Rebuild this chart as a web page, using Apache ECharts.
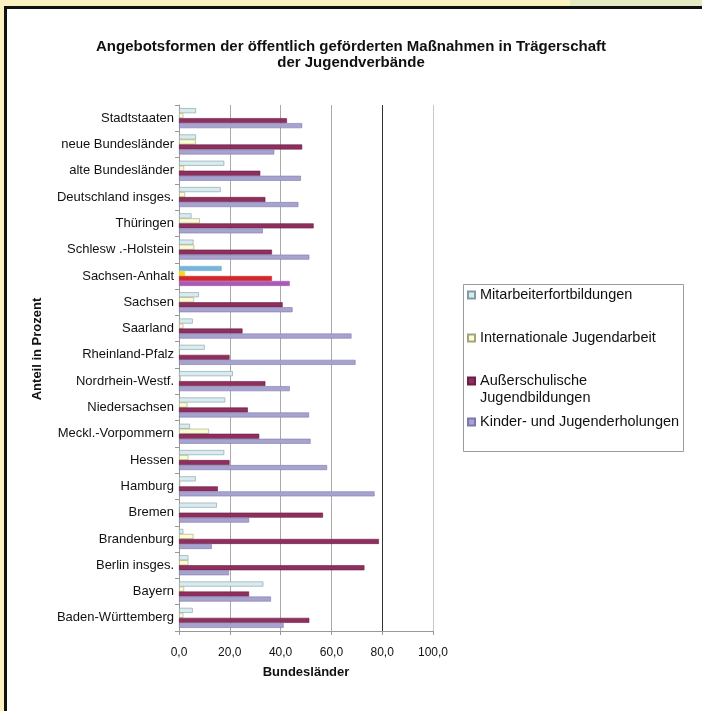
<!DOCTYPE html>
<html>
<head>
<meta charset="utf-8">
<script src="https://cdn.jsdelivr.net/npm/echarts@6/dist/echarts.min.js"></script>
<style>
html,body{margin:0;padding:0;background:#fff;}
#yt{position:absolute;left:0;top:0;width:570px;height:6px;background:#fbf1c1;}
#gt{position:absolute;left:570px;top:0;width:132px;height:6px;background:#e2ebc4;}
#yl{position:absolute;left:0;top:0;width:4px;height:711px;background:#fbf1c1;}
#bd{position:absolute;left:4px;top:6px;width:698px;height:705px;border-left:3px solid #111;border-top:3px solid #111;box-sizing:border-box;}
#chart{position:absolute;left:0;top:0;width:702px;height:711px;}
</style>
</head>
<body>
<div id="yt"></div><div id="gt"></div><div id="yl"></div><div id="bd"></div>
<div id="chart"></div>
<script>
const categories = ['Baden-Württemberg','Bayern','Berlin insges.','Brandenburg','Bremen','Hamburg','Hessen','Meckl.-Vorpommern','Niedersachsen','Nordrhein-Westf.','Rheinland-Pfalz','Saarland','Sachsen','Sachsen-Anhalt','Schlesw .-Holstein','Thüringen','Deutschland insges.','alte Bundesländer','neue Bundesländer','Stadtstaaten'];
const seriesNames = ['Mitarbeiterfortbildungen','Internationale Jugendarbeit','Außerschulische Jugendbildungen','Kinder- und Jugenderholungen'];
const mitarbeiter = [5.4,33.2,3.7,1.7,14.9,6.6,17.8,4.3,18.2,21.2,10.1,5.4,7.8,16.8,5.7,4.9,16.4,17.8,6.7,6.7];
const international = [1.7,2.0,3.7,5.7,0.3,0.5,3.7,11.8,3.3,0.7,0.3,1.7,5.9,2.4,6.0,8.2,2.4,2.0,6.6,1.7];
const ausserschulisch = [51.3,27.6,73.0,78.7,56.7,15.3,19.9,31.6,27.1,34.0,19.9,25.0,40.8,36.6,36.6,53.0,34.0,32.0,48.5,42.5];
const kinder = [41.2,36.2,19.7,12.9,27.6,77.0,58.3,51.8,51.2,43.6,69.5,67.9,44.7,43.6,51.3,33.0,47.0,48.0,37.5,48.5];
const xTicks = [0,20,40,60,80,100];
const highlighted = 'Sachsen-Anhalt';

const font = 'Liberation Sans, Arial, sans-serif';
const styles = [
  {fill:'#d9ebef', border:'#7e9da5', hl:'#78b4d8'},
  {fill:'#fcfcd2', border:'#a3a37e', hl:'#f0dc1e'},
  {fill:'#8e2f5e', border:'#6a1f44', hl:'#d2282a'},
  {fill:'#a7a3cf', border:'#7d79ad', hl:'#a85ab8'}
];
const values = [mitarbeiter, international, ausserschulisch, kinder];

const series = values.map((arr, s) => ({
  name: seriesNames[s],
  type: 'bar',
  barWidth: 5,
  barGap: '0%',
  itemStyle: {color: styles[s].fill, borderColor: styles[s].border, borderWidth: 0.6},
  data: arr.map((v, i) => categories[i] === highlighted
    ? {value: v, itemStyle: {color: styles[s].hl, borderColor: styles[s].hl}}
    : v)
}));

const legendTops = [287.5, 330.5, 373.5, 414.5];
const legends = seriesNames.map((n, s) => ({
  data: [n],
  left: 467,
  top: legendTops[s],
  padding: 0,
  icon: 'rect',
  itemWidth: 7,
  itemHeight: 7,
  selectedMode: false,
  formatter: nm => s === 2 ? nm.split(' ')[0] : nm,
  textStyle: {fontFamily: font, fontSize: 14.5, color: '#111'}
}));

const chart = echarts.init(document.getElementById('chart'));
chart.setOption({
  animation: false,
  backgroundColor: 'transparent',
  title: {
    text: 'Angebotsformen der öffentlich geförderten Maßnahmen in Trägerschaft\nder Jugendverbände',
    left: 'center',
    top: 34,
    textStyle: {fontFamily: font, fontSize: 15, fontWeight: 'bold', color: '#111', lineHeight: 16}
  },
  graphic: [
    {type: 'rect', shape: {x: 463.5, y: 284.5, width: 220, height: 167}, style: {fill: '#fff', stroke: '#9a9a9a', lineWidth: 1}, z: -1},
    {type: 'text', x: 480, y: 398, style: {text: seriesNames[2].split(' ')[1], font: '14.5px Liberation Sans, Arial, sans-serif', fill: '#111', textVerticalAlign: 'middle'}}
  ],
  legend: legends,
  grid: {left: 179, top: 105, width: 254, height: 526, containLabel: false},
  xAxis: {
    type: 'value', min: xTicks[0], max: xTicks[xTicks.length - 1], interval: 20,
    name: 'Bundesländer', nameLocation: 'middle', nameGap: 35,
    nameTextStyle: {fontFamily: font, fontSize: 13, fontWeight: 'bold', color: '#111'},
    axisLine: {show: true, lineStyle: {color: '#999'}},
    axisTick: {show: true, length: 4, lineStyle: {color: '#999'}},
    axisLabel: {fontFamily: font, fontSize: 12, color: '#111', margin: 16, formatter: v => v.toFixed(1).replace('.', ',')},
    splitLine: {show: true, showMinLine: false, lineStyle: {color: ['#aaa','#aaa','#aaa','#333','#c8c8c8'], width: 1}}
  },
  yAxis: {
    type: 'category', data: categories,
    name: 'Anteil in Prozent', nameLocation: 'middle', nameGap: 135,
    nameTextStyle: {fontFamily: font, fontSize: 13, fontWeight: 'bold', color: '#111', padding: [0, 0, 0, 38]},
    axisLine: {show: true, lineStyle: {color: '#999'}},
    axisTick: {show: true, length: 4, lineStyle: {color: '#999'}},
    axisLabel: {fontFamily: font, fontSize: 13, color: '#111', margin: 5}
  },
  series: series
});
</script>
</body>
</html>
